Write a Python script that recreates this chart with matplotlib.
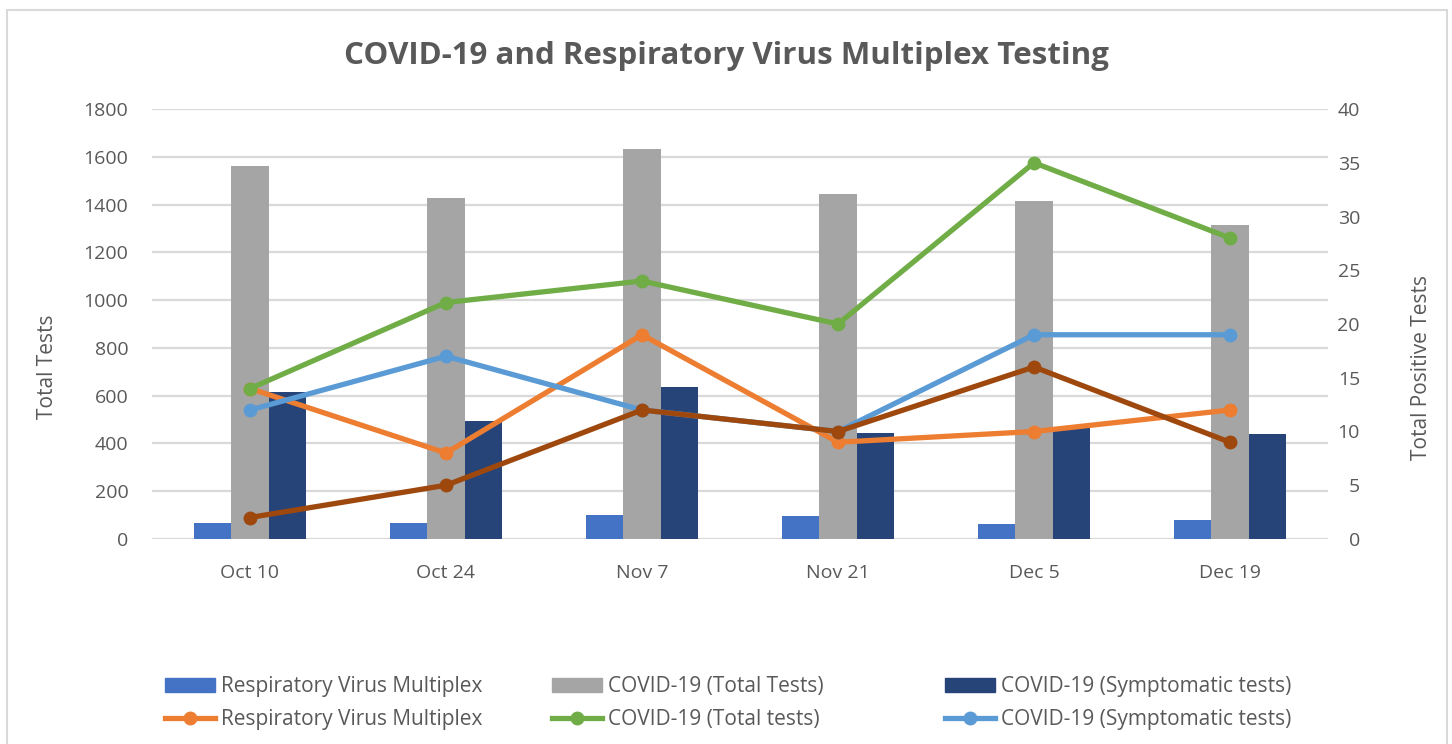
import matplotlib
matplotlib.use("Agg")
import matplotlib.pyplot as plt
import numpy as np
from matplotlib.lines import Line2D
from matplotlib.patches import Patch, Rectangle

# data
dates = ["Oct 10", "Oct 24", "Nov 7", "Nov 21", "Dec 5", "Dec 19"]
rvm_tests = [65, 65, 100, 96, 63, 80]
covid_total_tests = [1560, 1427, 1634, 1446, 1415, 1314]
covid_sympt_tests = [615, 495, 638, 445, 465, 440]

rvm_pos = [14, 8, 19, 9, 10, 12]
covid_total_pos = [14, 22, 24, 20, 35, 28]
covid_sympt_pos = [12, 17, 12, 10, 19, 19]
other_pos = [2, 5, 12, 10, 16, 9]

txt = "#595959"
grid = "#D9D9D9"
main_font = ["Open Sans", "DejaVu Sans"]

fig = plt.figure(figsize=(14.52, 7.44), dpi=100)
W, H = 1452, 744
ax = fig.add_axes([152 / W, 1 - 539 / H, (1328 - 152) / W, (539 - 109) / H])
ax2 = ax.twinx()

x = np.arange(len(dates))
bw = 0.19
b1 = ax.bar(x - bw, rvm_tests, bw, color="#4472C4", zorder=2)
b2 = ax.bar(x, covid_total_tests, bw, color="#A5A5A5", zorder=2)
b3 = ax.bar(x + bw, covid_sympt_tests, bw, color="#264478", zorder=2)

lw, ms = 3.8, 9
l1, = ax2.plot(x, rvm_pos, color="#ED7D31", lw=lw, marker="o", ms=ms)
l2, = ax2.plot(x, covid_total_pos, color="#70AD47", lw=lw, marker="o", ms=ms)
l3, = ax2.plot(x, covid_sympt_pos, color="#5B9BD5", lw=lw, marker="o", ms=ms)
ax2.plot(x, other_pos, color="#9E480E", lw=lw, marker="o", ms=ms)

ax.set_xlim(-0.5, len(dates) - 0.5)
ax.set_ylim(0, 1800)
ax.set_yticks(range(0, 1801, 200))
ax2.set_ylim(0, 40)
ax2.set_yticks(range(0, 41, 5))
ax.set_xticks(x)
ax.set_xticklabels(dates)

ax.grid(axis="y", color=grid, lw=1.6, zorder=0)
ax.set_axisbelow(True)
for a in (ax, ax2):
    for s in a.spines.values():
        s.set_visible(False)
    a.tick_params(length=0, labelsize=14, labelcolor=txt)
    for lab in a.get_xticklabels() + a.get_yticklabels():
        lab.set_family(main_font)
ax.tick_params(axis="y", pad=17)
ax.tick_params(axis="x", pad=18)
ax2.tick_params(axis="y", pad=23)
for lab in ax2.get_yticklabels():
    lab.set_horizontalalignment("right")

ax.set_ylabel("Total Tests", fontsize=15, color=txt, family=main_font)
ax2.set_ylabel("Total Positive Tests", fontsize=15, color=txt, family=main_font)
ax.yaxis.set_label_coords(-0.080, 0.40)
ax2.yaxis.set_label_coords(1.071, 0.40)

fig.text(0.5, 1 - 56 / H, "COVID-19 and Respiratory Virus Multiplex Testing",
         ha="center", va="center", fontsize=22.5, fontweight="bold", color=txt,
         family=main_font)

# legend: three columns, bars on top row, lines below
cols = [
    (165, Patch(color="#4472C4"), l1, "Respiratory Virus Multiplex", "Respiratory Virus Multiplex"),
    (552, Patch(color="#A5A5A5"), l2, "COVID-19 (Total Tests)", "COVID-19 (Total tests)"),
    (945, Patch(color="#264478"), l3, "COVID-19 (Symptomatic tests)", "COVID-19 (Symptomatic tests)"),
]
for xpos, patch, line, lab_bar, lab_line in cols:
    lh = Line2D([], [], color=line.get_color(), lw=lw, marker="o", ms=ms)
    leg = fig.legend([patch, lh], [lab_bar, lab_line], loc="center left",
                     bbox_to_anchor=(xpos / W, 1 - 703 / H), frameon=False,
                     borderpad=0, borderaxespad=0, handlelength=2.4,
                     handleheight=0.6, handletextpad=0.3, labelspacing=0.55,
                     prop={"family": main_font, "size": 15})
    for t in leg.get_texts():
        t.set_color(txt)

fig.add_artist(Rectangle((7 / W, -0.05), (1447 - 7) / W, 1.05 - 10 / H,
                         transform=fig.transFigure, fill=False,
                         edgecolor=grid, lw=1.5))

fig.savefig("out.png", dpi=100)
